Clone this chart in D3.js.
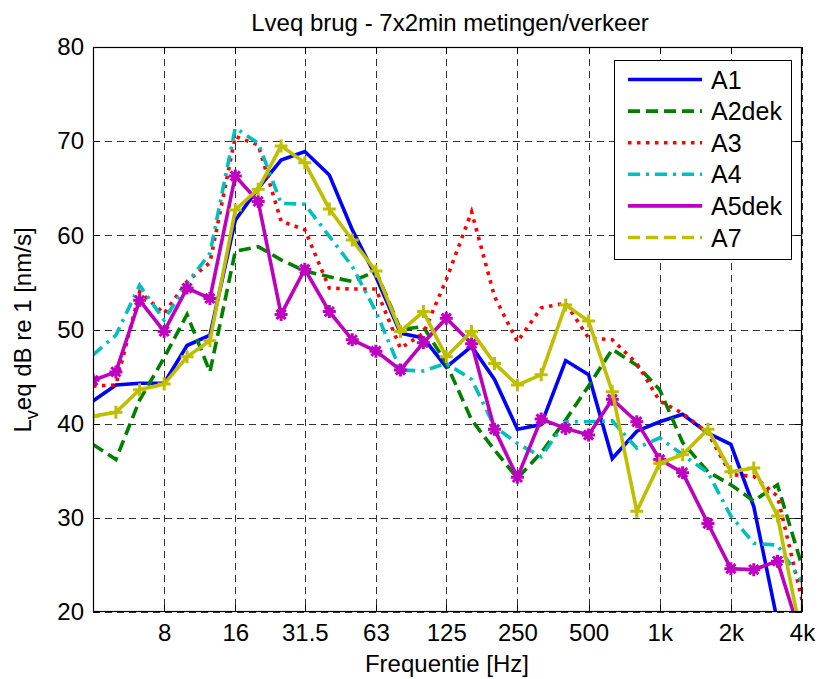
<!DOCTYPE html>
<meta charset="utf-8">
<style>
body { margin: 0; background: #fff; }
svg { font-family: "Liberation Sans", Arial, sans-serif; }
.grid line { stroke: #333; stroke-width: 1; stroke-dasharray: 7,5; shape-rendering: crispEdges; }
.axis path { display: none; }
.axis line { stroke: #000; shape-rendering: crispEdges; }
.axis text { font-size: 24px; fill: #000; font-family: "Liberation Sans", Arial, sans-serif; }
</style>
<svg width="820" height="679"></svg>
<script src="https://d3js.org/d3.v7.min.js"></script>
<script>
// third-octave band centres (Hz)
var freqs = [4, 5, 6.3, 8, 10, 12.5, 16, 20, 25, 31.5, 40, 50, 63, 80, 100, 125, 160, 200,
             250, 315, 400, 500, 630, 800, 1000, 1250, 1600, 2000, 2500, 3150, 4000];

var A1    = [42.4, 44.1, 44.3, 44.3, 48.3, 49.4, 61.6, 65.0, 68.0, 68.9, 66.4, 60.6, 55.6, 49.6, 49.1, 46.0,
             48.2, 44.7, 39.4, 39.9, 46.7, 45.2, 36.3, 39.2, 40.2, 41.0, 39.0, 37.8, 31.2, 19.0, 12.0];
var A2dek = [37.8, 36.2, 42.5, 47.0, 51.6, 45.5, 58.3, 58.8, 57.4, 56.2, 55.6, 55.1, 56.2, 50.0, 50.3, 46.4,
             40.4, 37.2, 34.2, 36.9, 40.4, 44.0, 47.9, 46.2, 43.6, 38.0, 34.9, 33.5, 31.8, 33.5, 24.9];
var A3    = [44.0, 44.1, 54.0, 51.7, 55.1, 57.1, 70.5, 69.6, 61.5, 60.6, 54.4, 54.3, 54.3, 48.0, 49.6, 55.3,
             62.5, 53.5, 48.7, 52.3, 52.8, 49.1, 48.9, 46.4, 42.4, 41.1, 39.0, 34.6, 34.4, 32.3, 21.3];
var A4    = [47.3, 49.4, 54.7, 51.0, 54.9, 58.1, 71.4, 69.8, 63.4, 63.3, 59.9, 56.7, 51.9, 45.7, 45.6, 46.4,
             44.7, 39.7, 37.9, 36.5, 40.2, 40.2, 40.3, 37.4, 38.5, 36.7, 34.8, 30.2, 27.3, 27.1, 23.2];
var A5dek = [44.6, 45.5, 53.1, 49.8, 54.4, 53.3, 66.3, 63.6, 51.6, 56.4, 51.9, 48.9, 47.7, 45.7, 48.6, 51.2,
             48.5, 39.4, 34.3, 40.5, 39.5, 38.8, 42.6, 40.2, 36.2, 34.8, 29.4, 24.6, 24.5, 25.4, 17.0];
var A7    = [40.8, 41.2, 43.6, 44.2, 47.1, 48.8, 62.7, 64.9, 69.5, 67.7, 62.8, 59.5, 56.2, 49.8, 51.9, 47.1,
             49.8, 46.4, 44.1, 45.2, 52.6, 50.9, 43.4, 30.7, 35.8, 36.7, 39.4, 34.9, 35.3, 30.2, 17.0];

var names = ["A1", "A2dek", "A3", "A4", "A5dek", "A7"];
var values = [A1, A2dek, A3, A4, A5dek, A7];

var xTicks = [8, 16, 31.5, 63, 125, 250, 500, 1000, 2000, 4000];
var xTickLabels = ["8", "16", "31.5", "63", "125", "250", "500", "1k", "2k", "4k"];
var yTicks = [20, 30, 40, 50, 60, 70, 80];

// look of each line
var styles = [
    {color: "#0000ff", dash: null,       marker: null,   legendDash: null},
    {color: "#008000", dash: "12,6",     marker: null,   legendDash: "12,6"},
    {color: "#ff0000", dash: "3.5,5.5",  marker: null,   legendDash: "3.5,5.5"},
    {color: "#00bfbf", dash: "12,6,3,6", marker: null,   legendDash: "12,6,3,6"},
    {color: "#bf00bf", dash: null,       marker: "star", legendDash: null},
    {color: "#bfbf00", dash: null,       marker: "plus", legendDash: "12,6"}
];

var svg = d3.select("svg");
var pl = 93, pt = 47, pr = 802, pb = 612;

var x = d3.scaleLog().domain([4, 4000]).range([pl, pr]);
var y = d3.scaleLinear().domain([20, 80]).range([pb, pt]);

svg.append("rect").attr("width", 820).attr("height", 679).attr("fill", "#fff");

// grid
var grid = svg.append("g").attr("class", "grid");
grid.selectAll(".gx").data(xTicks).enter().append("line")
    .attr("x1", function(d) { return Math.round(x(d)) + 0.5; })
    .attr("x2", function(d) { return Math.round(x(d)) + 0.5; })
    .attr("y1", pt).attr("y2", pb);
grid.selectAll(".gy").data(yTicks).enter().append("line")
    .attr("x1", pl).attr("x2", pr)
    .attr("y1", function(d) { return Math.round(y(d)) + 0.5; })
    .attr("y2", function(d) { return Math.round(y(d)) + 0.5; });

// axes (ticks inside, MATLAB style)
svg.append("g").attr("class", "axis")
    .attr("transform", "translate(0," + pb + ")")
    .call(d3.axisBottom(x).tickValues(xTicks)
        .tickFormat(function(d, i) { return xTickLabels[i]; })
        .tickSize(-7).tickPadding(12));
svg.append("g").attr("class", "axis")
    .attr("transform", "translate(0," + pt + ")")
    .call(d3.axisTop(x).tickValues(xTicks).tickFormat("").tickSize(-7));
svg.append("g").attr("class", "axis")
    .attr("transform", "translate(" + pl + ",0)")
    .call(d3.axisLeft(y).tickValues(yTicks).tickSize(-7).tickPadding(9));
svg.append("g").attr("class", "axis")
    .attr("transform", "translate(" + pr + ",0)")
    .call(d3.axisRight(y).tickValues(yTicks).tickFormat("").tickSize(-7));

// lines
svg.append("clipPath").attr("id", "clip").append("rect")
    .attr("x", pl).attr("y", pt).attr("width", pr - pl).attr("height", pb - pt);
var plot = svg.append("g").attr("clip-path", "url(#clip)");

var line = d3.line()
    .x(function(d, i) { return x(freqs[i]); })
    .y(function(d) { return y(d); });

values.forEach(function(vals, s) {
    var st = styles[s];
    plot.append("path")
        .attr("d", line(vals))
        .attr("fill", "none")
        .attr("stroke", st.color)
        .attr("stroke-width", 3.6)
        .attr("stroke-linejoin", "miter")
        .attr("stroke-dasharray", st.dash);
    if (st.marker) {
        var r = 6.5;
        plot.selectAll(null).data(vals).enter().append("path")
            .attr("transform", function(d, i) { return "translate(" + x(freqs[i]) + "," + y(d) + ")"; })
            .attr("d", st.marker == "plus"
                ? "M" + (-r) + ",0H" + r + "M0," + (-r) + "V" + r
                : "M" + (-r) + ",0H" + r + "M0," + (-r) + "V" + r +
                  "M-4.6,-4.6L4.6,4.6M-4.6,4.6L4.6,-4.6")
            .attr("fill", "none")
            .attr("stroke", st.color)
            .attr("stroke-width", 3);
    }
});

// frame
svg.append("rect").attr("x", pl + 0.5).attr("y", pt + 0.5)
    .attr("width", pr - pl - 1).attr("height", pb - pt - 1)
    .attr("fill", "none").attr("stroke", "#000").attr("stroke-width", 1.2);

// legend
var lg = svg.append("g").attr("transform", "translate(614,60)");
lg.append("rect").attr("x", 0.5).attr("y", 0.5).attr("width", 177).attr("height", 199)
    .attr("fill", "#fff").attr("stroke", "#000");
names.forEach(function(n, i) {
    var yy = 19.5 + i * 31.6;
    lg.append("line").attr("x1", 14).attr("x2", 88).attr("y1", yy).attr("y2", yy)
        .attr("stroke", styles[i].color).attr("stroke-width", 3.6)
        .attr("stroke-dasharray", styles[i].legendDash);
    lg.append("text").attr("x", 97).attr("y", yy + 9).attr("font-size", 25).text(n);
});

// titles
svg.append("text").attr("x", 450).attr("y", 31).attr("text-anchor", "middle")
    .attr("font-size", 24).text("Lveq brug - 7x2min metingen/verkeer");
svg.append("text").attr("x", 447).attr("y", 672).attr("text-anchor", "middle")
    .attr("font-size", 24).text("Frequentie [Hz]");
var yl = svg.append("text").attr("transform", "translate(31,330) rotate(-90)")
    .attr("text-anchor", "middle").attr("font-size", 24);
yl.append("tspan").text("L");
yl.append("tspan").attr("dy", 7).attr("font-size", 18).text("v");
yl.append("tspan").attr("dy", -7).text("eq dB re 1 [nm/s]");
</script>
